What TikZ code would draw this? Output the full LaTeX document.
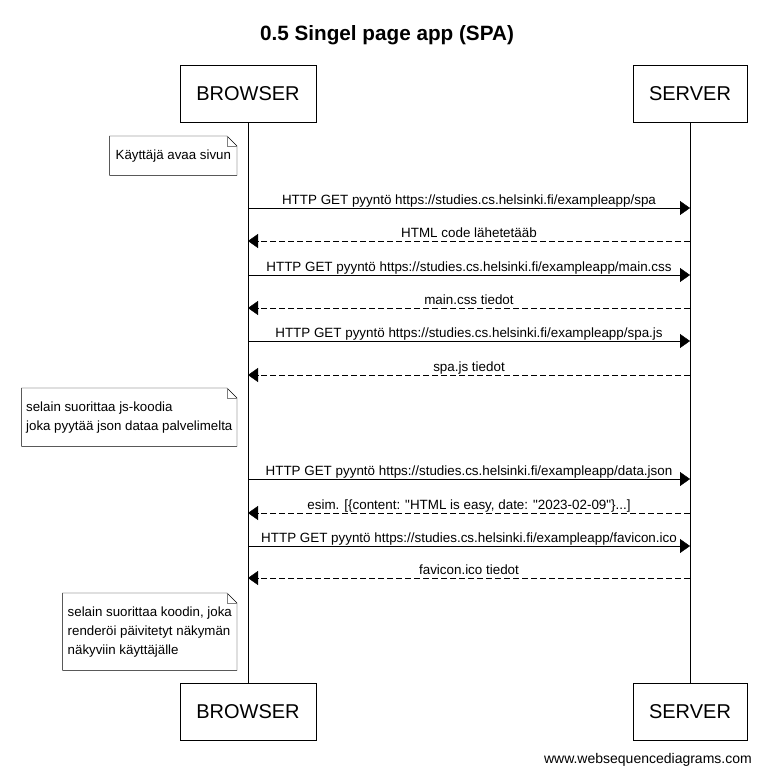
\documentclass[tikz,border=0pt]{standalone}
\usepackage{fontspec}
\newfontfamily\wsdfont{Liberation Sans}
\usepackage{tikz}
\usetikzlibrary{arrows.meta,calc,positioning}

% note box with a folded top right corner
\newcommand{\dogear}[1]{%
    \draw (#1.north west) -- ($(#1.north east)+(-10pt,0pt)$) -- ($(#1.north east)+(0pt,-10pt)$)
          -- (#1.south east) -- (#1.south west) -- cycle;
    \draw [gray] ($(#1.north east)+(-10pt,0pt)$) |- ($(#1.north east)+(0pt,-10pt)$);}

\begin{document}
\wsdfont
\begin{tikzpicture}[x=1pt,y=-1pt,inner sep=0pt,
                    actor/.style={draw,minimum height=57pt,font=\fontsize{20}{24}\selectfont},
                    memo/.style={align=left,font=\fontsize{13.3}{19}\selectfont},
                    call/.style={-{Triangle[length=10pt,width=14pt]}},
                    answer/.style={call,dash pattern=on 6pt off 3pt},
                    msglabel/.style={above=0.5pt,text height=10pt,text depth=3pt,
                                     font=\fontsize{13.4}{16}\selectfont}]
    \useasboundingbox (0,0) rectangle (774,782);

    \node at (387, 35) (title) [font=\bfseries\fontsize{20.7}{24}\selectfont] {0.5 Singel page app (SPA)};

    \node at (248, 93.5)  (browser)    [actor,minimum width=136pt] {BROWSER};
    \node at (690, 93.5)  (server)     [actor,minimum width=114pt] {SERVER};
    \node at (248, 711.5) (browserend) [actor,minimum width=136pt] {BROWSER};
    \node at (690, 711.5) (serverend)  [actor,minimum width=114pt] {SERVER};
    \draw (browser) -- (browserend);
    \draw (server) -- (serverend);

    \foreach \y [count=\i] in {208,241,275,308,341,375,479,513,546,578} {
        \coordinate (b\i) at (248,\y);
        \coordinate (s\i) at (690,\y);
    }

    \draw [call]   (b1)  -- node [msglabel] {HTTP GET pyyntö https://studies.cs.helsinki.fi/exampleapp/spa}      (s1);
    \draw [answer] (s2)  -- node [msglabel] {HTML code lähetetääb}                                               (b2);
    \draw [call]   (b3)  -- node [msglabel] {HTTP GET pyyntö https://studies.cs.helsinki.fi/exampleapp/main.css} (s3);
    \draw [answer] (s4)  -- node [msglabel] {main.css tiedot}                                                    (b4);
    \draw [call]   (b5)  -- node [msglabel] {HTTP GET pyyntö https://studies.cs.helsinki.fi/exampleapp/spa.js}   (s5);
    \draw [answer] (s6)  -- node [msglabel] {spa.js tiedot}                                                      (b6);
    \draw [call]   (b7)  -- node [msglabel] {HTTP GET pyyntö https://studies.cs.helsinki.fi/exampleapp/data.json} (s7);
    \draw [answer] (s8)  -- node [msglabel] {esim. [\{content: "HTML is easy, date: "2023-02-09"\}...]}        (b8);
    \draw [call]   (b9)  -- node [msglabel] {HTTP GET pyyntö https://studies.cs.helsinki.fi/exampleapp/favicon.ico} (s9);
    \draw [answer] (s10) -- node [msglabel] {favicon.ico tiedot}                                                 (b10);

    \node at (237,136) (opensite) [memo,anchor=north east,minimum width=127pt,minimum height=39pt]
        {Käyttäjä avaa sivun};
    \node at (237,388) (runjs)    [memo,anchor=north east,minimum width=215pt,minimum height=58pt]
        {selain suorittaa js-koodia\\joka pyytää json dataa palvelimelta};
    \node at (237,593) (render)   [memo,anchor=north east,minimum width=174pt,minimum height=77pt]
        {selain suorittaa koodin, joka\\renderöi päivitetyt näkymän\\näkyviin käyttäjälle};
    \dogear{opensite}
    \dogear{runjs}
    \dogear{render}

    \node at (752,760) (credit) [anchor=east,font=\fontsize{14}{17}\selectfont] {www.websequencediagrams.com};
\end{tikzpicture}
\end{document}
